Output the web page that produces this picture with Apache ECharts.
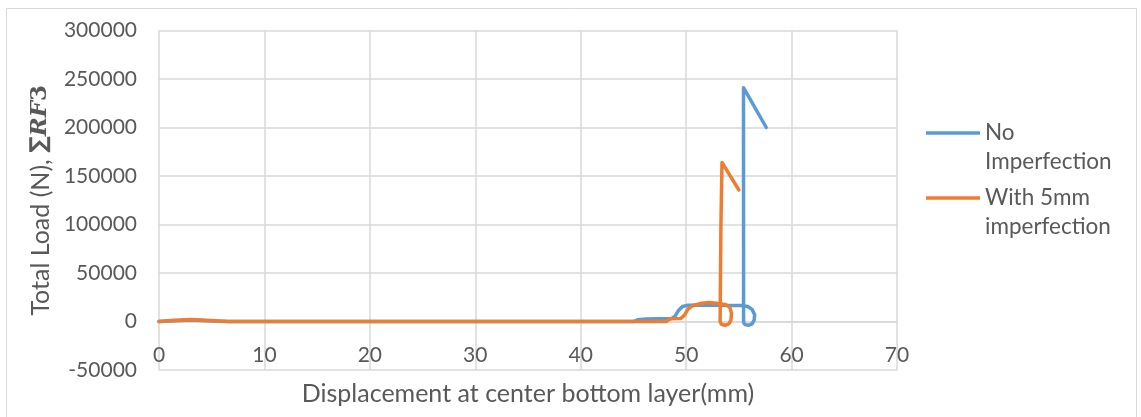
<!DOCTYPE html>
<html>
<head>
<meta charset="utf-8">
<script src="https://cdn.jsdelivr.net/npm/echarts@6/dist/echarts.min.js"></script>
<style>
  html, body { margin: 0; padding: 0; background: #ffffff; }
  #chart { width: 1141px; height: 417px; }
</style>
</head>
<body>
<div id="chart"></div>
<script>
// Load–displacement response at the centre of the bottom layer, [displacement mm, load N]
const noImperfection = [
  [0, 0], [1.5, 800], [3, 1500], [4.5, 800], [6.5, 0], [20, 0], [40, 0],
  [45.0, 0], [45.4, 1800], [46.2, 2600], [48.6, 3000], [48.95, 5500],
  [49.25, 11000], [49.65, 15500], [50.2, 16800], [52.0, 17000], [54.0, 16600],
  [55.2, 16500], [55.85, 15500], [56.25, 12500], [56.5, 7000], [56.45, 1500],
  [56.25, -2500], [55.9, -3900], [55.6, -3200], [55.45, -1000],
  [55.44, 241000], [57.6, 200000]
];
const withImperfection = [
  [0, 0], [1.5, 1300], [3, 2000], [4.5, 1300], [6.5, 0], [20, 0], [40, 0],
  [48.1, 0], [48.5, 2800], [49.5, 3200], [49.85, 6500], [50.15, 12500],
  [50.6, 16300], [51.4, 18700], [52.2, 19600], [53.1, 18600], [53.8, 17200],
  [54.15, 14500], [54.3, 8500], [54.25, 1500], [54.05, -2500], [53.7, -3900],
  [53.35, -2800], [53.22, 0], [53.3, 100000], [53.4, 164000], [55.0, 135600]
];

const seriesNames = ['No\nImperfection', 'With 5mm\nimperfection'];
const seriesColors = ['#5b9bd5', '#ed7d31'];
const xTicks = { min: 0, max: 70, step: 10 };
const yTicks = { min: -50000, max: 300000, step: 50000 };

const FONT = 'Lato';
const TEXT = '#595959';
const GRID = '#d9d9d9';

const chart = echarts.init(document.getElementById('chart'), null, { renderer: 'canvas' });

// One legend block per series so each key line sits beside the first line of its label
function legendFor(i, topPx) {
  return {
    show: true,
    data: [seriesNames[i]],
    left: 926,
    top: topPx,
    orient: 'vertical',
    padding: 0,
    icon: 'rect',
    itemWidth: 54,
    itemHeight: 3.5,
    selectedMode: false,
    // blank first line keeps the key line level with the first text line
    formatter: name => '\u00a0\n' + name,
    textStyle: {
      color: TEXT,
      fontFamily: FONT,
      fontSize: 22.5,
      lineHeight: 29
    }
  };
}

chart.setOption({
  animation: false,
  backgroundColor: '#ffffff',
  graphic: [{
    type: 'rect',
    shape: { x: 6.5, y: 8.5, width: 1130, height: 430 },
    style: { fill: 'none', stroke: GRID, lineWidth: 1 },
    silent: true,
    z: -10
  }],
  grid: {
    left: 159, right: 244, top: 30.5, bottom: 47,
    containLabel: false,
    outerBoundsMode: 'none'
  },
  legend: [legendFor(0, 89.5), legendFor(1, 154.5)],
  xAxis: {
    type: 'value',
    min: xTicks.min, max: xTicks.max, interval: xTicks.step,
    name: 'Displacement at center bottom layer(mm)',
    nameLocation: 'middle',
    nameGap: 60,
    nameTextStyle: { color: TEXT, fontFamily: FONT, fontSize: 25 },
    offset: -48.5,
    axisLine: { onZero: false, lineStyle: { color: GRID, width: 1.5 } },
    axisTick: { show: false },
    axisLabel: { color: TEXT, fontFamily: FONT, fontSize: 21, margin: 23 },
    splitLine: { show: true, lineStyle: { color: GRID, width: 1.5 } }
  },
  yAxis: {
    type: 'value',
    min: yTicks.min, max: yTicks.max, interval: yTicks.step,
    name: 'Total Load (N), {s|∑}{m|RF}{d|3}',
    nameLocation: 'middle',
    nameGap: 103,
    nameTextStyle: {
      color: TEXT, fontFamily: FONT, fontSize: 25,
      rich: {
        s: { color: TEXT, fontFamily: 'DejaVu Sans', fontWeight: 'bold', fontSize: 23 },
        m: { color: TEXT, fontFamily: 'DejaVu Serif', fontWeight: 'bold', fontStyle: 'italic', fontSize: 23 },
        d: { color: TEXT, fontFamily: 'DejaVu Serif', fontWeight: 'bold', fontSize: 23 }
      }
    },
    axisLine: { show: false },
    axisTick: { show: false },
    axisLabel: {
      color: TEXT, fontFamily: FONT, fontSize: 21, margin: 22,
      formatter: v => String(v)
    },
    splitLine: { show: true, lineStyle: { color: GRID, width: 1.5 } }
  },
  series: [
    {
      name: seriesNames[0], type: 'line', data: noImperfection,
      showSymbol: false, smooth: false, color: seriesColors[0],
      lineStyle: { width: 3.5, color: seriesColors[0], join: 'round', cap: 'round' }
    },
    {
      name: seriesNames[1], type: 'line', data: withImperfection,
      showSymbol: false, smooth: false, color: seriesColors[1],
      lineStyle: { width: 3.5, color: seriesColors[1], join: 'round', cap: 'round' }
    }
  ]
});
</script>
</body>
</html>
